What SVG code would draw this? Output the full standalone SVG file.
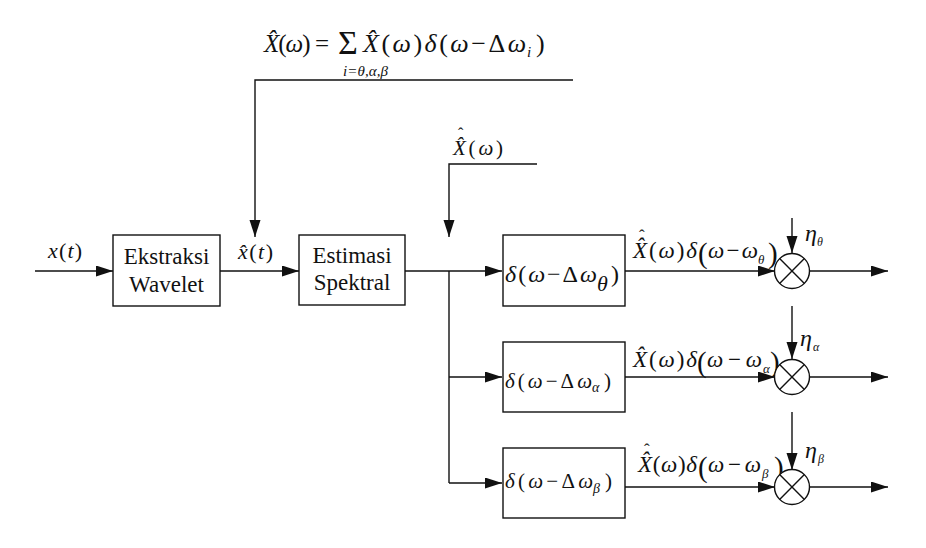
<svg xmlns="http://www.w3.org/2000/svg" width="926" height="548" viewBox="0 0 926 548" font-family="Liberation Serif, serif">
<style>
text{fill:#111}
.i{font-style:italic}
.box{fill:#fff;stroke:#111;stroke-width:1.4}
.ln{fill:none;stroke:#111;stroke-width:1.4}
.ar{marker-end:url(#ah)}
.c{text-anchor:middle}
</style>
<defs>
<marker id="ah" markerUnits="userSpaceOnUse" markerWidth="18" markerHeight="12" refX="17" refY="5.5" orient="auto">
<path d="M0,0 L17,5.5 L0,11 z" fill="#111"/>
</marker>
</defs>
<rect width="926" height="548" fill="#fff"/>

<g id="connectors">
<path class="ln ar" d="M35,271 H113"/>
<path class="ln ar" d="M220,271 H299"/>
<path class="ln ar" d="M573,80 H255 V237"/>
<path class="ln ar" d="M405,271 H502"/>
<path class="ln ar" d="M537,164 H449 V237"/>
<path class="ln" d="M449,271 V483"/>
<path class="ln ar" d="M449,377 H502"/>
<path class="ln ar" d="M449,483 H502"/>
<path class="ln ar" d="M625,271 H775"/>
<path class="ln ar" d="M625,377 H775"/>
<path class="ln ar" d="M625,487 H775"/>
<path class="ln ar" d="M792,218 V253"/>
<path class="ln ar" d="M792,306 V359"/>
<path class="ln ar" d="M792,412 V470"/>
<path class="ln ar" d="M810,271 H888"/>
<path class="ln ar" d="M810,377 H888"/>
<path class="ln ar" d="M810,487 H888"/>
</g>

<g id="formula-top">
<text x="263" y="52" font-size="25" textLength="65" lengthAdjust="spacing"><tspan class="i">X̂</tspan>(<tspan class="i">ω</tspan>) =</text>
<text x="338" y="54" font-size="34">Σ</text>
<text x="363" y="52" font-size="26" textLength="163" lengthAdjust="spacing"><tspan class="i">X̂</tspan>(<tspan class="i">ω</tspan>)<tspan class="i">δ</tspan>(<tspan class="i">ω</tspan>−Δ<tspan class="i">ω</tspan></text>
<text x="527" y="57" font-size="15" class="i">i</text>
<text x="536" y="52" font-size="26">)</text>
<text x="343" y="76" font-size="15" class="i" textLength="45" lengthAdjust="spacing">i=θ,α,β</text>
</g>

<g id="label-x">
<text x="48" y="258" font-size="22" textLength="34" lengthAdjust="spacing"><tspan class="i">x</tspan>(<tspan class="i">t</tspan>)</text>
</g>

<g id="ekstraksi">
<rect class="box" x="113" y="235" width="107" height="71"/>
<text class="c" x="166.5" y="264" font-size="23">Ekstraksi</text>
<text class="c" x="166.5" y="292" font-size="23">Wavelet</text>
</g>

<g id="label-xhat">
<text x="238" y="259" font-size="22" textLength="35" lengthAdjust="spacing"><tspan class="i">x̂</tspan>(<tspan class="i">t</tspan>)</text>
</g>

<g id="estimasi">
<rect class="box" x="299" y="235" width="106" height="70"/>
<text class="c" x="352" y="263" font-size="23">Estimasi</text>
<text class="c" x="352" y="290" font-size="23">Spektral</text>
</g>

<g id="label-Xhathat">
<text x="453" y="155" font-size="21" textLength="50" lengthAdjust="spacing"><tspan class="i">X̂</tspan>(<tspan class="i">ω</tspan>)</text>
<text x="458" y="139" font-size="16">ˆ</text>
</g>

<g id="filter-theta">
<rect class="box" x="503" y="235" width="122" height="71"/>
<text x="505" y="282" font-size="24" textLength="92" lengthAdjust="spacing"><tspan class="i">δ</tspan>(<tspan class="i">ω</tspan>−Δ<tspan class="i">ω</tspan></text>
<text x="597" y="291" font-size="22" class="i">θ</text>
<text x="611" y="282" font-size="24">)</text>
</g>

<g id="filter-alpha">
<rect class="box" x="503" y="342" width="122" height="70"/>
<text x="505" y="388" font-size="21" textLength="87" lengthAdjust="spacing"><tspan class="i">δ</tspan>(<tspan class="i">ω</tspan>−Δ<tspan class="i">ω</tspan></text>
<text x="592" y="392" font-size="14" class="i">α</text>
<text x="604" y="388" font-size="21">)</text>
</g>

<g id="filter-beta">
<rect class="box" x="503" y="448" width="122" height="70"/>
<text x="505" y="488" font-size="21" textLength="88" lengthAdjust="spacing"><tspan class="i">δ</tspan>(<tspan class="i">ω</tspan>−Δ<tspan class="i">ω</tspan></text>
<text x="593" y="493" font-size="14" class="i">β</text>
<text x="605" y="488" font-size="21">)</text>
</g>

<g id="label-out-theta">
<text x="633" y="258" font-size="23" textLength="64" lengthAdjust="spacing"><tspan class="i">X̂</tspan>(<tspan class="i">ω</tspan>)<tspan class="i">δ</tspan></text>
<text x="639" y="241" font-size="17">ˆ</text>
<text x="698" y="263" font-size="29">(</text>
<text x="708" y="258" font-size="23" textLength="50" lengthAdjust="spacing"><tspan class="i">ω</tspan>−<tspan class="i">ω</tspan></text>
<text x="758" y="264" font-size="13" class="i">θ</text>
<text x="768" y="263" font-size="29">)</text>
</g>

<g id="label-out-alpha">
<text x="633" y="367" font-size="23" textLength="64" lengthAdjust="spacing"><tspan class="i">X̂</tspan>(<tspan class="i">ω</tspan>)<tspan class="i">δ</tspan></text>
<text x="697" y="372" font-size="29">(</text>
<text x="707" y="367" font-size="23" textLength="55" lengthAdjust="spacing"><tspan class="i">ω</tspan>−<tspan class="i">ω</tspan></text>
<text x="763" y="373" font-size="13" class="i">α</text>
<text x="770" y="372" font-size="29">)</text>
</g>

<g id="label-out-beta">
<text x="638" y="472" font-size="23" textLength="59" lengthAdjust="spacing"><tspan class="i">X̂</tspan>(<tspan class="i">ω</tspan>)<tspan class="i">δ</tspan></text>
<text x="644" y="455" font-size="17">ˆ</text>
<text x="698" y="477" font-size="29">(</text>
<text x="708" y="472" font-size="23" textLength="53" lengthAdjust="spacing"><tspan class="i">ω</tspan>−<tspan class="i">ω</tspan></text>
<text x="762" y="478" font-size="13" class="i">β</text>
<text x="774" y="477" font-size="29">)</text>
</g>

<g id="mult-theta">
<circle class="box" cx="792" cy="271" r="17.5"/>
<path class="ln" d="M779.6,258.6 L804.4,283.4 M804.4,258.6 L779.6,283.4"/>
<text x="805" y="241" font-size="24" class="i">η</text>
<text x="817" y="246" font-size="12" class="i">θ</text>
</g>

<g id="mult-alpha">
<circle class="box" cx="792" cy="377" r="17.5"/>
<path class="ln" d="M779.6,364.6 L804.4,389.4 M804.4,364.6 L779.6,389.4"/>
<text x="800" y="346" font-size="24" class="i">η</text>
<text x="813" y="351" font-size="12" class="i">α</text>
</g>

<g id="mult-beta">
<circle class="box" cx="792" cy="487" r="17.5"/>
<path class="ln" d="M779.6,474.6 L804.4,499.4 M804.4,474.6 L779.6,499.4"/>
<text x="805" y="458" font-size="24" class="i">η</text>
<text x="818" y="463" font-size="12" class="i">β</text>
</g>
</svg>
